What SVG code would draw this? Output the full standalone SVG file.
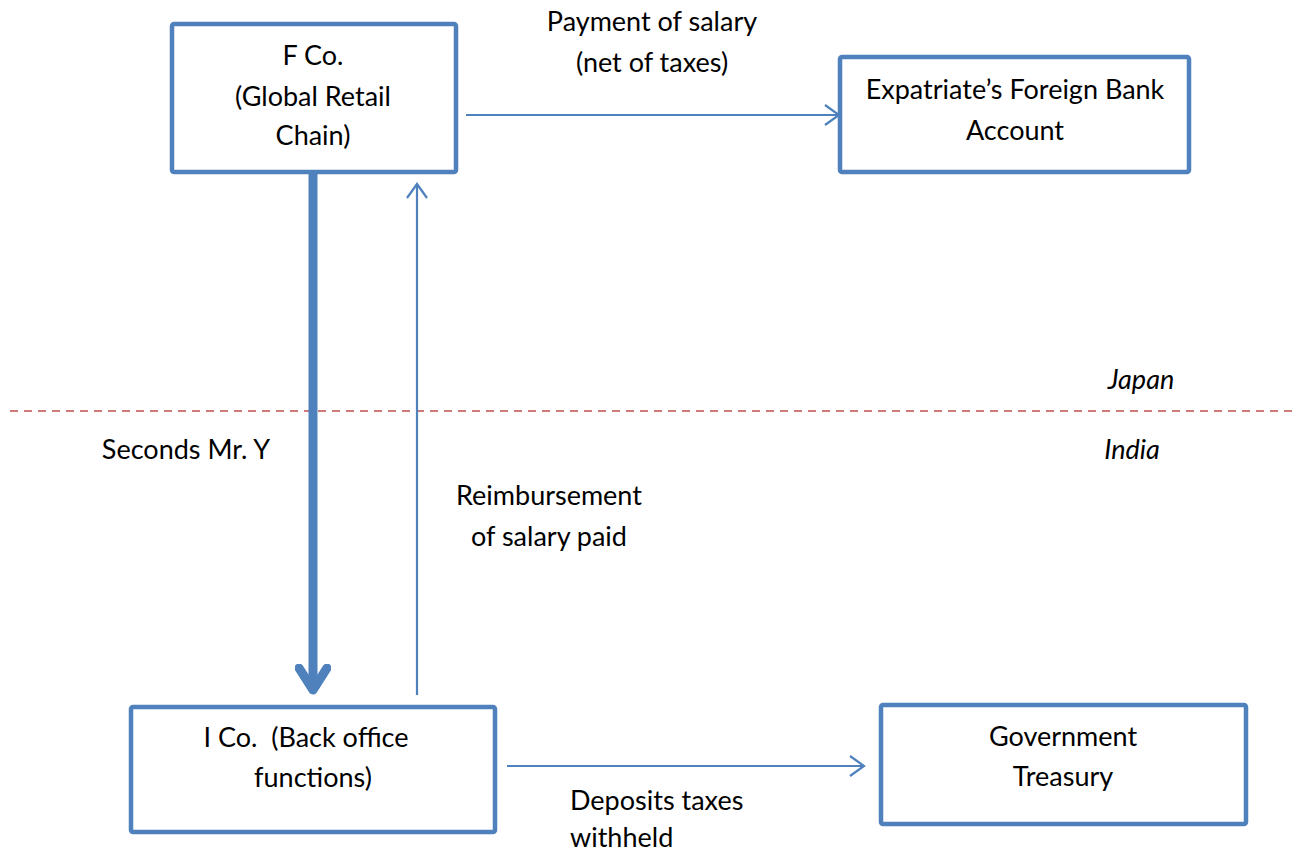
<svg xmlns="http://www.w3.org/2000/svg" width="1296" height="852" viewBox="0 0 1296 852">
<style>
.box{fill:#fff;stroke:#4F81BD;stroke-width:4.5;}
.t{font-family:Lato,"Open Sans","Liberation Sans",sans-serif;font-size:27px;fill:#000;text-anchor:middle;}
.l{text-anchor:start;}
.i{font-style:italic;}
.c{fill:none;stroke:#4F81BD;stroke-width:2.2;}
.ck{fill:none;stroke:#4F81BD;stroke-width:9;}
</style>
<defs>
<marker id="a" markerWidth="18" markerHeight="24" refX="15" refY="12" orient="auto" markerUnits="userSpaceOnUse">
<path d="M1,2 L15,12 L1,22" fill="none" stroke="#4F81BD" stroke-width="2.2"/>
</marker>
<marker id="ak" markerWidth="36" markerHeight="36" refX="26" refY="18" orient="auto" markerUnits="userSpaceOnUse">
<path d="M4,4 L26,18 L4,32" fill="none" stroke="#4F81BD" stroke-width="9" stroke-linecap="round" stroke-linejoin="round"/>
</marker>
</defs>
<line x1="10" y1="411" x2="1293" y2="411" stroke="#C0504D" stroke-width="1.5" stroke-dasharray="8,6"/>
<g id="connectors">
<line class="ck" x1="313" y1="172" x2="313" y2="690" marker-end="url(#ak)"/>
<line class="c" x1="417" y1="695" x2="417" y2="184" marker-end="url(#a)"/>
<line class="c" x1="466" y1="115" x2="839" y2="115" marker-end="url(#a)"/>
<line class="c" x1="507" y1="766" x2="864" y2="766" marker-end="url(#a)"/>
</g>
<g id="fco">
<rect class="box" x="172" y="24" width="284" height="148" rx="2"/>
<text class="t" x="313" y="65">F Co.</text>
<text class="t" x="313" y="106">(Global Retail</text>
<text class="t" x="313" y="145">Chain)</text>
</g>
<g id="expat">
<rect class="box" x="840" y="57" width="349" height="115" rx="2"/>
<text class="t" x="1015" y="99">Expatriate’s Foreign Bank</text>
<text class="t" x="1015" y="140">Account</text>
</g>
<g id="ico">
<rect class="box" x="131" y="707" width="364" height="125" rx="2"/>
<text class="t" x="306" y="747">I Co.&#160; (Back office</text>
<text class="t" x="313" y="787">functions)</text>
</g>
<g id="gov">
<rect class="box" x="881" y="705" width="365" height="119" rx="2"/>
<text class="t" x="1063" y="746">Government</text>
<text class="t" x="1063" y="786">Treasury</text>
</g>
<g id="labels">
<text class="t" x="652" y="31">Payment of salary</text>
<text class="t" x="652" y="72">(net of taxes)</text>
<text class="t i" x="1141" y="389">Japan</text>
<text class="t i" x="1132" y="459">India</text>
<text class="t" x="186" y="459">Seconds Mr. Y</text>
<text class="t" x="549" y="505">Reimbursement</text>
<text class="t" x="549" y="546">of salary paid</text>
<text class="t l" x="570" y="810">Deposits taxes</text>
<text class="t l" x="570" y="847">withheld</text>
</g>
</svg>
